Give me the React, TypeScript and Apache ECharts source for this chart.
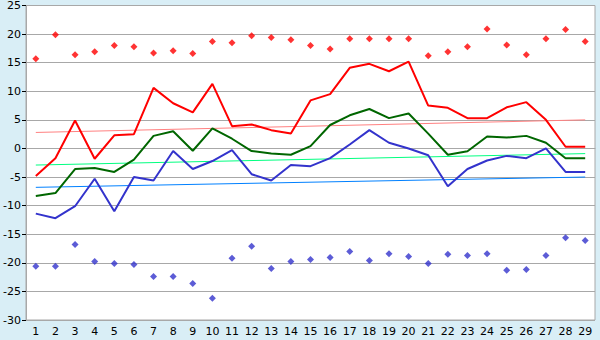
import React, { useEffect, useRef } from "react";
import * as echarts from "echarts";

const categories = Array.from({ length: 29 }, (_, i) => String(i + 1));

const maxAvg = [-4.8, -1.7, 4.9, -1.8, 2.3, 2.5, 10.6, 7.9, 6.3, 11.3, 3.9, 4.2, 3.2, 2.6, 8.4, 9.5, 14.1, 14.8, 13.5, 15.2, 7.5, 7.1, 5.3, 5.3, 7.2, 8.1, 5.0, 0.3, 0.3];
const meanAvg = [-8.3, -7.8, -3.6, -3.4, -4.1, -1.95, 2.2, 3.0, -0.4, 3.5, 1.7, -0.45, -0.9, -1.1, 0.4, 4.1, 5.8, 6.9, 5.3, 6.1, 2.6, -1.1, -0.5, 2.1, 1.9, 2.2, 1.0, -1.7, -1.7];
const minAvg = [-11.4, -12.2, -10.1, -5.3, -11.0, -5.0, -5.6, -0.45, -3.6, -2.2, -0.3, -4.5, -5.6, -2.9, -3.1, -1.7, 0.7, 3.2, 1.0, 0.0, -1.2, -6.6, -3.6, -2.1, -1.3, -1.7, 0.0, -4.1, -4.1];
const maxAbs = [15.7, 19.9, 16.4, 16.9, 18.0, 17.8, 16.7, 17.1, 16.6, 18.7, 18.5, 19.7, 19.4, 19.0, 18.0, 17.4, 19.2, 19.2, 19.2, 19.2, 16.2, 16.9, 17.8, 20.9, 18.1, 16.4, 19.2, 20.8, 18.7];
const minAbs = [-20.6, -20.6, -16.8, -19.75, -20.1, -20.3, -22.4, -22.4, -23.6, -26.2, -19.2, -17.1, -21.0, -19.75, -19.4, -19.05, -18.0, -19.6, -18.4, -18.9, -20.1, -18.5, -18.7, -18.4, -21.3, -21.15, -18.7, -15.6, -16.1];

// trend line end values (first and last category)
const maxTrendEnds = [2.8, 5.0];
const meanTrendEnds = [-2.9, -0.9];
const minTrendEnds = [-6.8, -5.0];

const yTicks = { min: -30, max: 25, interval: 5 };

function trendData(ends: number[]) {
  return categories.map((_, i) =>
    i === 0 ? ends[0] : i === categories.length - 1 ? ends[1] : null
  );
}

export default function App() {
  const ref = useRef<HTMLDivElement>(null);
  useEffect(() => {
    document.body.style.margin = "0";
    const chart = echarts.init(ref.current!, null, { renderer: "svg" });
    const font = "DejaVu Sans";
    chart.setOption({
      animation: false,
      backgroundColor: "#d9eef6",
      grid: {
        left: 26,
        right: 5,
        top: 5,
        bottom: 20,
        show: true,
        backgroundColor: "#ffffff",
        borderColor: "#a8a8a8",
        borderWidth: 1,
      },
      xAxis: {
        type: "category",
        data: categories,
        boundaryGap: true,
        axisLine: { lineStyle: { color: "#a8a8a8" } },
        axisTick: { alignWithLabel: true, length: 4, lineStyle: { color: "#000" } },
        axisLabel: { color: "#000", fontFamily: font, fontSize: 11, margin: 6, interval: 0 },
        splitLine: { show: false },
      },
      yAxis: {
        type: "value",
        min: yTicks.min,
        max: yTicks.max,
        interval: yTicks.interval,
        axisLine: { show: true, lineStyle: { color: "#a8a8a8" } },
        axisTick: { show: true, length: 4, lineStyle: { color: "#000" } },
        axisLabel: { color: "#000", fontFamily: font, fontSize: 11, margin: 5 },
        splitLine: { lineStyle: { color: "#a8a8a8", width: 1 } },
      },
      series: [
        { type: "line", data: trendData(maxTrendEnds), connectNulls: true, symbol: "none", lineStyle: { color: "#ff8080", width: 1 } },
        { type: "line", data: trendData(meanTrendEnds), connectNulls: true, symbol: "none", lineStyle: { color: "#00ff80", width: 1 } },
        { type: "line", data: trendData(minTrendEnds), connectNulls: true, symbol: "none", lineStyle: { color: "#0080ff", width: 1 } },
        { type: "line", data: maxAvg, symbol: "none", lineStyle: { color: "#ff0000", width: 2 } },
        { type: "line", data: meanAvg, symbol: "none", lineStyle: { color: "#006600", width: 2 } },
        { type: "line", data: minAvg, symbol: "none", lineStyle: { color: "#3333cc", width: 2 } },
        { type: "scatter", data: maxAbs, symbol: "diamond", symbolSize: 7, itemStyle: { color: "#ff0000" } },
        { type: "scatter", data: minAbs, symbol: "diamond", symbolSize: 7, itemStyle: { color: "#3333cc" } },
      ],
    });
    return () => chart.dispose();
  }, []);
  return <div ref={ref} style={{ width: 600, height: 340 }} />;
}
